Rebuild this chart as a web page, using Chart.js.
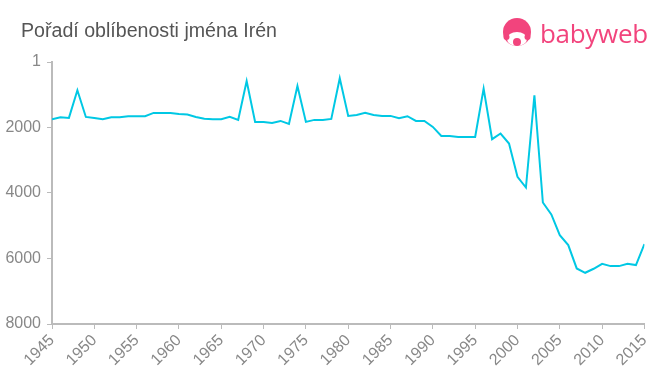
<!DOCTYPE html>
<html>
<head>
<meta charset="utf-8">
<title>Pořadí oblíbenosti jména Irén</title>
<script src="https://cdn.jsdelivr.net/npm/chart.js@4/dist/chart.umd.min.js"></script>
<style>
  body { margin: 0; background: #fff; }
  #wrap { position: relative; width: 660px; height: 375px; }
  #title {
    position: absolute; left: 21px; top: 19px;
    font: 19.6px "Liberation Sans", Arial, sans-serif; color: #555;
  }
  #logo { position: absolute; left: 502px; top: 16px; height: 32px; }
  #logo svg { position: absolute; left: 0; top: 2px; }
  #logo span {
    position: absolute; left: 38px; top: -1px;
    font: 26px "Open Sans", "Liberation Sans", sans-serif; color: #f2447d;
    letter-spacing: -0.3px;
  }
</style>
</head>
<body>
<div id="wrap">
  <canvas id="rankChart" width="660" height="375"></canvas>
  <div id="title">Pořadí oblíbenosti jména Irén</div>
  <div id="logo">
    <svg width="32" height="30" viewBox="0 0 32 30">
      <circle cx="15" cy="14" r="14" fill="#f2447d"/>
      <ellipse cx="15" cy="21" rx="10" ry="7" fill="#fff"/>
      <circle cx="4.5" cy="19" r="3" fill="#f2447d"/>
      <circle cx="25.5" cy="19" r="3" fill="#f2447d"/>
      <circle cx="15" cy="24" r="4" fill="#f2447d"/>
    </svg>
    <span>babyweb</span>
  </div>
</div>
<script>
// years and rank of the name for each year (lower = more popular)
const years = [1945, 1946, 1947, 1948, 1949, 1950, 1951, 1952, 1953, 1954,
    1955, 1956, 1957, 1958, 1959, 1960, 1961, 1962, 1963, 1964,
    1965, 1966, 1967, 1968, 1969, 1970, 1971, 1972, 1973, 1974,
    1975, 1976, 1977, 1978, 1979, 1980, 1981, 1982, 1983, 1984,
    1985, 1986, 1987, 1988, 1989, 1990, 1991, 1992, 1993, 1994,
    1995, 1996, 1997, 1998, 1999, 2000, 2001, 2002, 2003, 2004,
    2005, 2006, 2007, 2008, 2009, 2010, 2011, 2012, 2013, 2014, 2015];
const ranks = [1748, 1687, 1707, 864, 1678, 1709, 1748, 1687, 1687, 1657,
    1657, 1657, 1555, 1555, 1555, 1586, 1606, 1678, 1735, 1748,
    1748, 1677, 1768, 580, 1830, 1830, 1860, 1800, 1891, 733,
    1830, 1768, 1768, 1738, 498, 1650, 1616, 1555, 1616, 1646,
    1646, 1718, 1657, 1800, 1800, 1983, 2258, 2258, 2288, 2288,
    2288, 813, 2358, 2185, 2490, 3508, 3833, 1017, 4290, 4656,
    5287, 5592, 6303, 6436, 6314, 6162, 6232, 6232, 6162, 6201, 5561];
const rankTicks = [1, 2000, 4000, 6000, 8000];

const axisColor = '#bbb';
const labelColor = '#888';

document.addEventListener('DOMContentLoaded', function () {
    const ctx = document.getElementById('rankChart').getContext('2d');
    new Chart(ctx, {
        type: 'line',
        data: {
            datasets: [{
                data: years.map((y, i) => ({ x: y, y: ranks[i] })),
                borderColor: '#00c8e4',
                borderWidth: 2,
                pointRadius: 0,
                tension: 0,
                fill: false
            }]
        },
        options: {
            responsive: false,
            animation: false,
            layout: { padding: { top: 62, right: 14, bottom: 0, left: 0 } },
            plugins: { legend: { display: false }, tooltip: { enabled: false } },
            scales: {
                x: {
                    type: 'linear',
                    min: 1945,
                    max: 2015,
                    afterFit: function (scale) { scale.height = 51; },
                    ticks: {
                        stepSize: 5,
                        minRotation: 45,
                        maxRotation: 45,
                        padding: 2,
                        color: labelColor,
                        font: { family: '"Liberation Sans", Arial, sans-serif', size: 16 },
                        callback: v => String(v)
                    },
                    grid: { drawOnChartArea: false, drawTicks: true, tickLength: 5, color: axisColor },
                    border: { color: axisColor, width: 2 }
                },
                y: {
                    type: 'linear',
                    reverse: true,
                    min: 1,
                    max: 8000,
                    afterFit: function (scale) { scale.width = 52; },
                    afterBuildTicks: function (scale) {
                        scale.ticks = rankTicks.map(v => ({ value: v }));
                    },
                    ticks: {
                        padding: 6,
                        color: labelColor,
                        font: { family: '"Liberation Sans", Arial, sans-serif', size: 16 },
                        callback: v => String(v)
                    },
                    grid: { drawOnChartArea: false, drawTicks: true, tickLength: 5, color: axisColor },
                    border: { color: axisColor, width: 2 }
                }
            }
        }
    });
});
</script>
</body>
</html>
